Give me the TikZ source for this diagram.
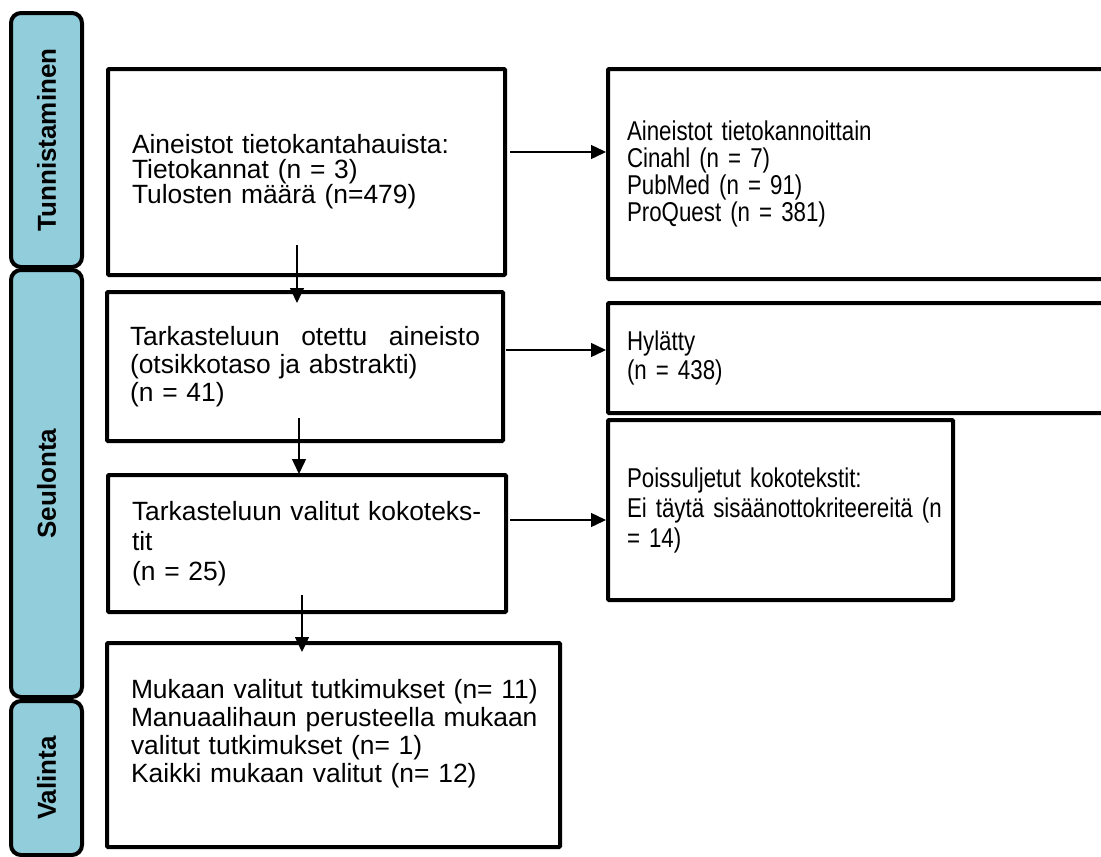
\documentclass[tikz,border=0pt]{standalone}
\usepackage{fontspec}
\setmainfont{Liberation Sans}
\newfontfamily\narrowsans[FakeStretch=0.82]{Liberation Sans}
\usetikzlibrary{arrows.meta}
\definecolor{phaseblue}{RGB}{146,205,220}

\begin{document}
\begin{tikzpicture}[x=1pt, y=-1pt,
    phase/.style={draw, line width=4pt, fill=phaseblue, rounded corners=10pt, rotate=90,
      inner sep=0pt, outer sep=0pt, minimum height=71pt, font=\fontsize{26}{26}\selectfont\bfseries},
    box/.style={draw, line width=4pt, anchor=north west, align=left, inner ysep=0pt, outer sep=0pt,
      rounded corners=1pt, font=\fontsize{26.4}{28}\selectfont},
    narrow/.style={font=\narrowsans\fontsize{27.2}{27}\selectfont},
    arr/.style={line width=1.4pt, -{Triangle[length=15pt,width=14pt]}}]
            \useasboundingbox (0,0) rectangle (1101,857);
            \clip (0,0) rectangle (1101,857);

            % Phases
            \node[phase, minimum width=254pt] (idphase) at (46.5,140) {Tunnistaminen};
            \node[phase, minimum width=427pt] (scphase) at (46.5,483.5) {Seulonta};
            \node[phase, minimum width=154pt] (slphase) at (46.5,778) {Valinta};

            % Left column
            \node[box, minimum width=397pt, minimum height=206pt, inner xsep=24pt, text width=349pt,
              font=\fontsize{26.4}{25}\selectfont] (search) at (108,69)
              {Aineistot tietokantahauista:\\Tietokannat (n = 3)\\Tulosten määrä (n=479)};
            \node[box, minimum width=396pt, minimum height=149pt, inner xsep=23pt, text width=350pt] (screened) at (107,292)
              {\makebox[350pt][s]{Tarkasteluun\hfill otettu\hfill aineisto}\\(otsikkotaso ja abstrakti)\\(n = 41)};
            \node[box, minimum width=398pt, minimum height=137pt, inner xsep=24pt, text width=350pt,
              font=\fontsize{26.4}{30}\selectfont] (fulltext) at (108,475)
              {\mbox{Tarkasteluun valitut kokoteks-}\\tit\\(n = 25)};
            \node[box, minimum width=453pt, minimum height=204pt, inner xsep=24pt, text width=405pt] (included) at (107,643)
              {\mbox{Mukaan valitut tutkimukset (n= 11)}\\\mbox{Manuaalihaun perusteella mukaan}\\valitut tutkimukset (n= 1)\\Kaikki mukaan valitut (n= 12)\\\mbox{}};

            % Right column
            \node[box, narrow, minimum width=513pt, minimum height=210pt, inner xsep=19pt, text width=475pt] (bydb) at (608,69)
              {Aineistot tietokannoittain\\Cinahl (n = 7)\\PubMed (n = 91)\\ProQuest (n = 381)};
            \node[box, narrow, minimum width=513pt, minimum height=110pt, inner xsep=19pt, text width=475pt,
              font=\narrowsans\fontsize{27.2}{29}\selectfont] (rejected) at (608,303)
              {Hylätty\\(n = 438)};
            \node[box, narrow, minimum width=345pt, minimum height=180pt, inner xsep=19pt, text width=307pt,
              font=\narrowsans\fontsize{27.2}{30}\selectfont] (excluded) at (608,420)
              {Poissuljetut kokotekstit:\\\mbox{Ei täytä sisäänottokriteereitä (n}\\= 14)};

            % Arrows
            \draw[arr] ([xshift=5pt,yshift=20pt]search.east) -- ([xshift=-2pt,yshift=22pt]bydb.west);
            \draw[arr] ([xshift=3pt,yshift=16.5pt]screened.east) -- ([xshift=-2pt,yshift=8pt]rejected.west);
            \draw[arr] ([xshift=4pt,yshift=23.5pt]fulltext.east) -- ([xshift=-2pt,yshift=-10pt]excluded.west);
            \draw[arr] ([xshift=-9.5pt,yshift=30pt]search.south) -- ([xshift=-8pt,yshift=-11pt]screened.north);
            \draw[arr] ([xshift=-6pt,yshift=23pt]screened.south) -- ([xshift=-8pt,yshift=1pt]fulltext.north);
            \draw[arr] ([xshift=-5pt,yshift=17pt]fulltext.south) -- ([xshift=-31.5pt,yshift=-9pt]included.north);
\end{tikzpicture}
\end{document}
